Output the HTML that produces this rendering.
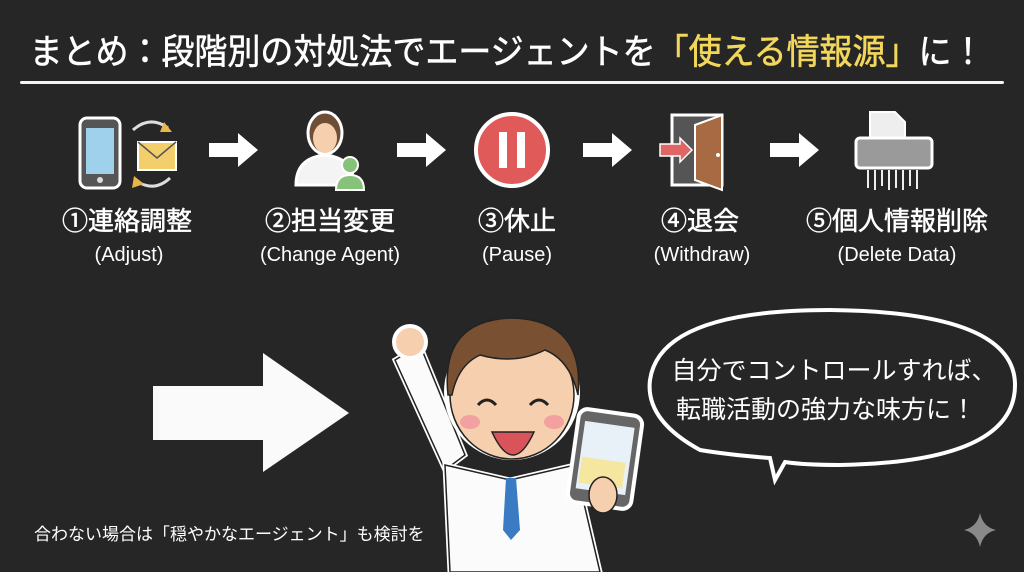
<!DOCTYPE html>
<html><head><meta charset="utf-8"><style>
html,body{margin:0;padding:0;background:#262626;}
svg{display:block}
text{font-family:"Liberation Sans","Noto Sans CJK JP",sans-serif;fill:#fff}
</style></head><body>
<svg width="1024" height="572" viewBox="0 0 1024 572" xmlns="http://www.w3.org/2000/svg">
<rect width="1024" height="572" fill="#262626"/>
<!-- title -->
<text x="507" y="64" font-size="35" text-anchor="middle" stroke="#fff" stroke-width="0.6" textLength="955" lengthAdjust="spacingAndGlyphs">まとめ：段階別の対処法でエージェントを<tspan fill="#f2d75a" stroke="#f2d75a">「使える情報源」</tspan>に！</text>
<rect x="20" y="81" width="984" height="3" rx="1.5" fill="#f4f4f4"/>

<!-- icon 1 phone + mail -->
<rect x="80" y="118" width="40" height="70" rx="7" fill="#555" stroke="#fff" stroke-width="3"/>
<rect x="86" y="128" width="28" height="46" fill="#9fd0ec"/>
<circle cx="100" cy="180" r="3" fill="#ddd"/>
<path d="M133 130 Q150 115 168 128" stroke="#ddd" stroke-width="3" fill="none"/>
<path d="M164 122 L172 132 L160 132 Z" fill="#e7b74a"/>
<rect x="138" y="142" width="38" height="28" fill="#f3cf6c" stroke="#fff" stroke-width="2"/>
<path d="M138 142 L157 158 L176 142" stroke="#555" stroke-width="1.5" fill="none"/>
<path d="M170 178 Q155 192 138 182" stroke="#ddd" stroke-width="3" fill="none"/>
<path d="M134 176 L132 188 L144 184 Z" fill="#e7b74a"/>
<!-- icon 2 person -->
<path d="M296 185 Q296 158 325 155 Q354 158 354 185 Z" fill="#f4f4f4" stroke="#fff" stroke-width="3"/>
<ellipse cx="325" cy="133" rx="17" ry="21" fill="#6e4f36" stroke="#fff" stroke-width="3"/>
<ellipse cx="325" cy="138" rx="12" ry="15" fill="#f6cfae"/>
<circle cx="350" cy="165" r="8" fill="#86c27a" stroke="#fff" stroke-width="2"/>
<path d="M336 190 Q336 175 350 175 Q364 175 364 190 Z" fill="#86c27a" stroke="#fff" stroke-width="2"/>
<!-- icon 3 pause -->
<circle cx="512" cy="150" r="36" fill="#e05a5a" stroke="#fff" stroke-width="4"/>
<rect x="499" y="132" width="8" height="36" fill="#fff"/>
<rect x="517" y="132" width="8" height="36" fill="#fff"/>
<!-- icon 4 door -->
<rect x="672" y="115" width="50" height="70" fill="#555" stroke="#fff" stroke-width="3"/>
<path d="M695 125 L722 115 L722 190 L695 180 Z" fill="#a86a43" stroke="#fff" stroke-width="2"/>
<circle cx="718" cy="155" r="2" fill="#fff"/>
<path d="M660 144 L680 144 L680 138 L692 150 L680 162 L680 156 L660 156 Z" fill="#e06565" stroke="#fff" stroke-width="1.5"/>
<!-- icon 5 shredder -->
<path d="M870 112 L895 112 L905 122 L905 140 L870 140 Z" fill="#eee" stroke="#fff" stroke-width="2"/>
<rect x="856" y="138" width="76" height="30" rx="4" fill="#9a9a9a" stroke="#fff" stroke-width="3"/>
<g stroke="#eee" stroke-width="2">
<line x1="868" y1="170" x2="868" y2="188"/><line x1="875" y1="170" x2="875" y2="190"/><line x1="882" y1="170" x2="882" y2="186"/><line x1="889" y1="170" x2="889" y2="190"/><line x1="896" y1="170" x2="896" y2="188"/><line x1="903" y1="170" x2="903" y2="190"/><line x1="910" y1="170" x2="910" y2="186"/><line x1="917" y1="170" x2="917" y2="189"/>
</g>
<!-- small arrows -->
<g fill="#fff">
<path d="M209 143 L238 143 L238 133 L258 150 L238 167 L238 157 L209 157 Z"/>
<path d="M397 143 L426 143 L426 133 L446 150 L426 167 L426 157 L397 157 Z"/>
<path d="M583 143 L612 143 L612 133 L632 150 L612 167 L612 157 L583 157 Z"/>
<path d="M770 143 L799 143 L799 133 L819 150 L799 167 L799 157 L770 157 Z"/>
</g>
<!-- labels -->
<g text-anchor="middle">
<text x="127" y="230" font-size="26" stroke="#fff" stroke-width="0.5">①連絡調整</text>
<text x="129" y="261" font-size="20">(Adjust)</text>
<text x="330" y="230" font-size="26" stroke="#fff" stroke-width="0.5">②担当変更</text>
<text x="330" y="261" font-size="20">(Change Agent)</text>
<text x="517" y="230" font-size="26" stroke="#fff" stroke-width="0.5">③休止</text>
<text x="517" y="261" font-size="20">(Pause)</text>
<text x="700" y="230" font-size="26" stroke="#fff" stroke-width="0.5">④退会</text>
<text x="702" y="261" font-size="20">(Withdraw)</text>
<text x="897" y="230" font-size="26" stroke="#fff" stroke-width="0.5">⑤個人情報削除</text>
<text x="897" y="261" font-size="20">(Delete Data)</text>
</g>
<!-- big arrow -->
<path d="M153 386 L263 386 L263 353 L349 413 L263 472 L263 440 L153 440 Z" fill="#fafafa"/>
<!-- bottom text -->
<text x="34" y="540" font-size="17">合わない場合は「穏やかなエージェント」も検討を</text>
<!-- person -->
<path d="M395 360 L420 345 L465 455 L445 470 Z" fill="#fbfbfb" stroke="#fff" stroke-width="5"/>
<path d="M395 360 L420 345 L465 455 L445 470 Z" fill="#fbfbfb" stroke="#222" stroke-width="1.5"/>
<circle cx="410" cy="342" r="16" fill="#f6cfae" stroke="#fff" stroke-width="4"/>
<path d="M445 465 L510 480 L575 465 L600 572 L450 572 Z" fill="#fbfbfb" stroke="#fff" stroke-width="5"/>
<path d="M445 465 L510 480 L575 465 L600 572 L450 572 Z" fill="#fbfbfb" stroke="#222" stroke-width="1.5"/>
<path d="M506 478 L516 478 L520 530 L511 540 L503 530 Z" fill="#3a7bc4"/>
<circle cx="512" cy="392" r="68" fill="#fff"/>
<ellipse cx="512" cy="395" rx="62" ry="64" fill="#f6cfae" stroke="#222" stroke-width="1.5"/>
<path d="M448 395 Q440 320 512 318 Q585 320 578 395 Q570 360 545 350 Q515 365 480 355 Q458 365 452 395 Z" fill="#7a5032" stroke="#222" stroke-width="1.5"/>
<path d="M478 405 Q487 395 496 405" stroke="#222" stroke-width="3" fill="none"/>
<path d="M530 405 Q539 395 548 405" stroke="#222" stroke-width="3" fill="none"/>
<ellipse cx="470" cy="422" rx="10" ry="7" fill="#f2a0a0"/>
<ellipse cx="554" cy="422" rx="10" ry="7" fill="#f2a0a0"/>
<path d="M492 432 Q513 478 534 432 Z" fill="#d9545a" stroke="#222" stroke-width="1.5"/>
<rect x="573" y="412" width="64" height="94" rx="9" transform="rotate(8 605 459)" fill="#666" stroke="#fff" stroke-width="4"/>
<rect x="580" y="424" width="50" height="68" transform="rotate(8 605 459)" fill="#e8f0f8"/>
<rect x="582" y="460" width="44" height="26" transform="rotate(8 605 459)" fill="#f5e6a0"/>
<ellipse cx="603" cy="495" rx="14" ry="18" fill="#f6cfae" stroke="#222" stroke-width="1.5"/>
<!-- bubble -->
<path d="M700 450 Q645 420 650 380 Q660 310 830 310 Q1015 312 1015 385 Q1015 462 840 465 Q805 465 785 462 L775 480 L770 458 Q730 455 700 450 Z" fill="#262626" stroke="#fff" stroke-width="4"/>
<text x="834" y="379" font-size="25" text-anchor="middle">自分でコントロールすれば、</text>
<text x="826" y="418" font-size="25" text-anchor="middle">転職活動の強力な味方に！</text>
<!-- sparkle -->
<path d="M980 513 Q983 527 996 530 Q983 533 980 547 Q977 533 964 530 Q977 527 980 513 Z" fill="#8a8a8a"/>
</svg>
</body></html>
